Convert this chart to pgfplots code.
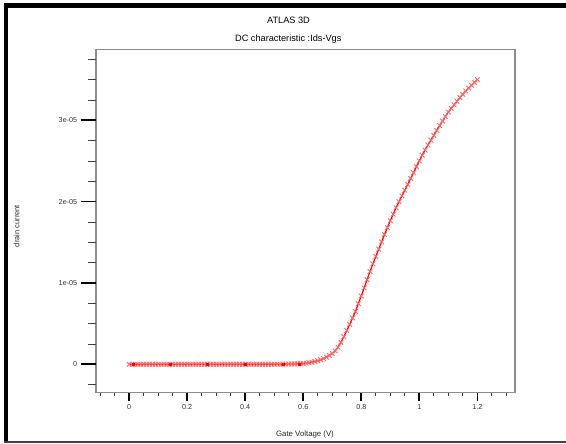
\documentclass[border=0pt]{standalone}
\usepackage{fontspec}
\setmainfont{Liberation Sans}
\usepackage{pgfplots}
\pgfplotsset{compat=1.18}
\begin{document}
\begin{tikzpicture}[x=1pt,y=1pt]
\path[use as bounding box] (0,0) rectangle (566,444);
% outer frame
\fill[black] (3.5,436) rectangle (566,440.5);
\fill[black] (3.5,1) rectangle (8,440.5);
\fill[black!75] (3.5,1) rectangle (566,3);
% titles and labels
\node[font=\fontsize{9.2}{10}\selectfont] at (288.5,423.3) {ATLAS 3D};
\node[font=\fontsize{9.2}{10}\selectfont] at (288.3,404.7) {DC characteristic :Ids-Vgs};
\node[font=\fontsize{7.8}{9}\selectfont, text=black!85] at (305,9.7) {Gate Voltage (V)};
\node[font=\fontsize{7.5}{9}\selectfont, text=black!85, rotate=90] at (16.7,218) {drain current};
\begin{axis}[
  at={(96pt,51.7pt)}, anchor=south west, scale only axis,
  width=419pt, height=343pt,
  xmin=-0.1144, xmax=1.3299, ymin=-0.3443, ymax=3.873,
  axis line style={draw=black!45, line width=1.3pt},
  tick align=outside, tick pos=left,
  xtick={0,0.2,0.4,0.6,0.8,1,1.2},
  xticklabels={0,0.2,0.4,0.6,0.8,1,1.2},
  minor xtick={-0.1,-0.05,0.05,0.1,0.15,0.25,0.3,0.35,0.45,0.5,0.55,0.65,0.7,0.75,0.85,0.9,0.95,1.05,1.1,1.15,1.25,1.3},
  ytick=\empty,
  major tick length=8.3pt, minor tick length=4pt,
  major tick style={black, line width=1.6pt},
  minor tick style={black!75, line width=0.9pt},
  xticklabel style={font=\fontsize{7.2}{8}\selectfont, text=black!80},
]
\addplot[red, line width=1.2pt, mark=x, mark size=3.3pt, mark options={red!60, line width=0.9pt}] table[row sep=\\] {
x y \\
0.00 0 \\ 0.01 0 \\ 0.02 0 \\ 0.03 0 \\ 0.04 0 \\ 0.05 0 \\ 0.06 0 \\ 0.07 0 \\ 0.08 0 \\ 0.09 0 \\
0.10 0 \\ 0.11 0 \\ 0.12 0 \\ 0.13 0 \\ 0.14 0 \\ 0.15 0 \\ 0.16 0 \\ 0.17 0 \\ 0.18 0 \\ 0.19 0 \\
0.20 0 \\ 0.21 0 \\ 0.22 0 \\ 0.23 0 \\ 0.24 0 \\ 0.25 0 \\ 0.26 0 \\ 0.27 0 \\ 0.28 0 \\ 0.29 0 \\
0.30 0 \\ 0.31 0 \\ 0.32 0 \\ 0.33 0 \\ 0.34 0 \\ 0.35 0 \\ 0.36 0 \\ 0.37 0 \\ 0.38 0 \\ 0.39 0 \\
0.40 0 \\ 0.41 0 \\ 0.42 0 \\ 0.43 0 \\ 0.44 0 \\ 0.45 0 \\ 0.46 0 \\ 0.47 0 \\ 0.48 0 \\ 0.49 0 \\
0.50 0 \\ 0.51 0.001 \\ 0.52 0.001 \\ 0.53 0.002 \\ 0.54 0.002 \\ 0.55 0.003 \\ 0.56 0.004 \\ 0.57 0.005 \\ 0.58 0.006 \\ 0.59 0.008 \\
0.60 0.010 \\ 0.61 0.014 \\ 0.62 0.019 \\ 0.63 0.026 \\ 0.64 0.034 \\ 0.65 0.044 \\ 0.66 0.056 \\ 0.67 0.070 \\ 0.68 0.088 \\ 0.69 0.108 \\
0.70 0.132 \\ 0.71 0.165 \\ 0.72 0.21 \\ 0.73 0.27 \\ 0.74 0.34 \\ 0.75 0.415 \\ 0.76 0.49 \\ 0.77 0.57 \\ 0.78 0.65 \\ 0.79 0.745 \\
0.80 0.84 \\ 0.81 0.94 \\ 0.82 1.04 \\ 0.83 1.14 \\ 0.84 1.235 \\ 0.85 1.325 \\ 0.86 1.415 \\ 0.87 1.505 \\ 0.88 1.595 \\ 0.89 1.68 \\
0.90 1.765 \\ 0.91 1.845 \\ 0.92 1.925 \\ 0.93 2.00 \\ 0.94 2.07 \\ 0.95 2.14 \\ 0.96 2.21 \\ 0.97 2.285 \\ 0.98 2.355 \\ 0.99 2.43 \\
1.00 2.50 \\ 1.01 2.57 \\ 1.02 2.635 \\ 1.03 2.695 \\ 1.04 2.755 \\ 1.05 2.815 \\ 1.06 2.875 \\ 1.07 2.935 \\ 1.08 2.99 \\ 1.09 3.045 \\
1.10 3.10 \\ 1.11 3.145 \\ 1.12 3.19 \\ 1.13 3.235 \\ 1.14 3.28 \\ 1.15 3.32 \\ 1.16 3.36 \\ 1.17 3.395 \\ 1.18 3.43 \\ 1.19 3.465 \\
1.20 3.50 \\
};
\addplot[only marks, mark=square*, mark size=1.1pt, red] coordinates {(0.015,0) (0.14,0) (0.27,0) (0.40,0) (0.53,0) (0.585,0.006)};
\end{axis}
\begin{axis}[
  at={(96pt,51.7pt)}, anchor=south west, scale only axis,
  width=419pt, height=343pt,
  xmin=-0.1144, xmax=1.3299, ymin=-0.3443, ymax=3.873,
  axis line style={draw=none},
  tick align=outside, tick pos=left,
  xtick=\empty,
  ytick={0,1,2,3},
  yticklabels={0,1e-05,2e-05,3e-05},
  minor ytick={-0.25,0.25,0.5,0.75,1.25,1.5,1.75,2.25,2.5,2.75,3.25,3.5,3.75},
  major tick length=15.3pt, minor tick length=7.7pt,
  major tick style={black, line width=1.6pt},
  minor tick style={black!75, line width=0.9pt},
  yticklabel style={font=\fontsize{7.2}{8}\selectfont, text=black!80},
]
\end{axis}
\end{tikzpicture}
\end{document}
